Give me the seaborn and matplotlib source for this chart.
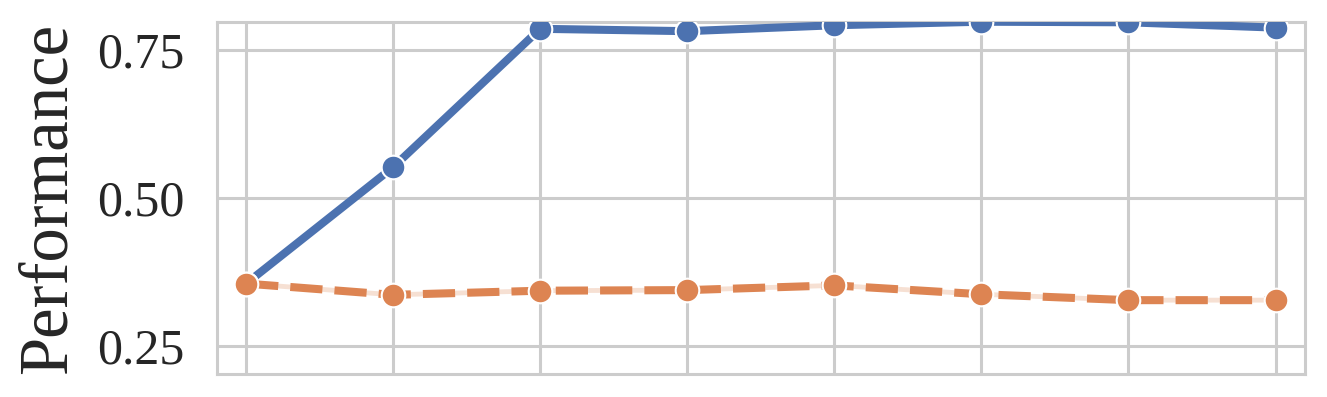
import matplotlib
matplotlib.use("Agg")
import matplotlib.pyplot as plt
import pandas as pd
import seaborn as sns

steps = [0, 1, 2, 3, 4, 5, 6, 7]
blueValues = [0.355, 0.552, 0.786, 0.782, 0.792, 0.798, 0.797, 0.788]
orangeValues = [0.355, 0.336, 0.343, 0.344, 0.352, 0.337, 0.327, 0.327]
yTicks = [0.25, 0.50, 0.75]
yLabel = "Performance"

lineWidth = 5.8
markerSize = 17

sns.set_theme(style="whitegrid")
plt.rcParams['font.family'] = ['Liberation Serif', 'DejaVu Serif']
plt.rcParams['axes.edgecolor'] = '#cccccc'
plt.rcParams['axes.linewidth'] = 2.2
plt.rcParams['grid.linewidth'] = 2.2
plt.rcParams['grid.color'] = '#cccccc'

colours = sns.color_palette("deep", 2)

df = pd.DataFrame({
    "step": steps + steps,
    "value": blueValues + orangeValues,
    "series": ["a"] * len(steps) + ["b"] * len(steps),
})

fig, ax = plt.subplots(figsize=(13.27, 3.97), dpi=100)
fig.subplots_adjust(left=0.1633, right=0.9834, top=0.9453, bottom=0.0572)

# faint solid trace behind the dashed series
ax.plot(steps, orangeValues, color=colours[1], alpha=0.25, linewidth=lineWidth * 0.6, zorder=1)

sns.lineplot(data=df, x="step", y="value", hue="series", style="series",
             palette=colours, markers=["o", "o"], dashes=["", (4, 1.5)],
             linewidth=lineWidth, markersize=markerSize,
             markeredgecolor="white", markeredgewidth=1.5,
             legend=False, ax=ax, zorder=3)

ax.set_xlim(-0.2, 7.2)
ax.set_ylim(0.2016, 0.798)
ax.set_xticks(steps)
ax.set_xticklabels([])
ax.set_yticks(yTicks)
ax.set_yticklabels(["%.2f" % t for t in yTicks], fontsize=36, color='#262626')
ax.tick_params(axis='both', length=0, pad=23)
ax.set_xlabel("")
ax.set_ylabel(yLabel, fontsize=49.5, color='#262626', labelpad=12)

fig.savefig("out.png", dpi=100)
